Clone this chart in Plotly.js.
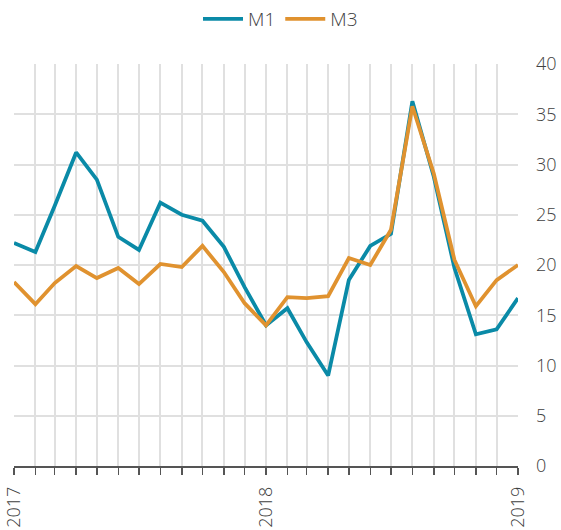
<!DOCTYPE html>
<html>
<head>
<meta charset="utf-8">
<script src="https://cdn.plot.ly/plotly-3.0.1.min.js"></script>
<style>html,body{margin:0;padding:0;background:#fff;}#chart{width:561px;height:530px;}</style>
</head>
<body>
<div id="chart"></div>
<script>
const months = ["2017-01-01","2017-02-01","2017-03-01","2017-04-01","2017-05-01","2017-06-01","2017-07-01","2017-08-01","2017-09-01","2017-10-01","2017-11-01","2017-12-01",
"2018-01-01","2018-02-01","2018-03-01","2018-04-01","2018-05-01","2018-06-01","2018-07-01","2018-08-01","2018-09-01","2018-10-01","2018-11-01","2018-12-01","2019-01-01"];
const m1 = [22.2,21.3,25.9,31.2,28.5,22.8,21.5,26.2,25.0,24.4,21.8,17.8,14.0,15.7,12.3,9.0,18.5,21.9,23.1,36.3,28.8,19.7,13.1,13.6,16.7];
const m3 = [18.3,16.1,18.2,19.9,18.7,19.7,18.1,20.1,19.8,21.9,19.3,16.2,14.0,16.8,16.7,16.9,20.7,20.0,23.5,35.8,29.1,20.5,15.9,18.5,20.0];
const tickLabels = ["2017","","","","","","","","","","","","2018","","","","","","","","","","","","2019"];

const txt = {family: "Open Sans, Noto Sans, sans-serif", size: 18, color: "#404040", weight: 300};
const traces = [
  {x: months, y: m1, name: "M1", type: "scatter", mode: "lines", line: {color: "#0a8aa7", width: 3.8}},
  {x: months, y: m3, name: "M3", type: "scatter", mode: "lines", line: {color: "#e0922f", width: 3.8}}
];
const layout = {
  width: 561, height: 530,
  margin: {l: 14, r: 43, t: 64, b: 64},
  paper_bgcolor: "#fff", plot_bgcolor: "#fff",
  font: txt,
  showlegend: true,
  legend: {orientation: "h", x: 0.5, xanchor: "center", xref: "container", y: 1, yref: "container", yanchor: "top", font: {family: txt.family, size: 19, color: "#404040", weight: 300}, itemwidth: 40},
  xaxis: {
    type: "date",
    range: ["2017-01-01", "2019-01-01"],
    tickvals: months, ticktext: tickLabels,
    tickangle: -90,
    ticks: "outside", ticklen: 7, tickcolor: "#555", tickwidth: 1.5,
    ticklabelstandoff: 5,
    showgrid: true, gridcolor: "#e0e0e0", gridwidth: 2,
    showline: true, linecolor: "#555", linewidth: 1.5,
    zeroline: false,
    tickfont: txt,
    fixedrange: true
  },
  yaxis: {
    side: "right",
    range: [0, 40], dtick: 5,
    showgrid: true, gridcolor: "#e0e0e0", gridwidth: 2,
    zeroline: false, showline: false,
    ticks: "", ticklabelstandoff: 17,
    tickfont: txt,
    fixedrange: true
  }
};
Plotly.newPlot("chart", traces, layout, {displayModeBar: false, staticPlot: true});
</script>
</body>
</html>
